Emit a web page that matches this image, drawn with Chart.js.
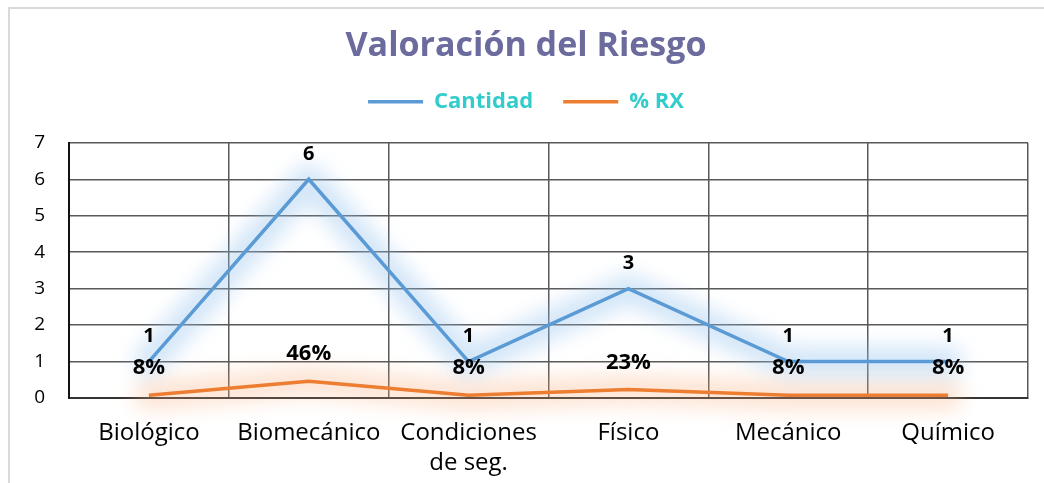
<!DOCTYPE html>
<html>
<head>
<meta charset="utf-8">
<script src="https://cdn.jsdelivr.net/npm/chart.js@4.4.0/dist/chart.umd.min.js"></script>
<style>
  body { margin: 0; background: #fff; }
  #marco { position: absolute; left: 8px; top: 7px; right: -5px; bottom: -5px;
           border-top: 2px solid #d9d9d9; border-left: 2px solid #d9d9d9; }
  #caja { position: absolute; left: 0; top: 0; width: 1044px; height: 483px; }
</style>
</head>
<body>
<div id="marco"></div>
<div id="caja"><canvas id="grafico"></canvas></div>
<script>
// Datos del gráfico
const categorias = ['Biológico', 'Biomecánico', ['Condiciones', 'de seg.'], 'Físico', 'Mecánico', 'Químico'];
const cantidad = [1, 6, 1, 3, 1, 1];
const porcentajeRx = [0.077, 0.46, 0.077, 0.23, 0.077, 0.077];
const etiquetasRx = ['8%', '46%', '8%', '23%', '8%', '8%'];

const fuente = "'Open Sans', 'DejaVu Sans', sans-serif";

// Plugin para el brillo difuso alrededor de las líneas
const brillo = {
    id: 'brillo',
    beforeInit(chart) {
        // espacio extra bajo la leyenda
        const fitOriginal = chart.legend.fit;
        chart.legend.fit = function () {
            fitOriginal.bind(chart.legend)();
            this.height += 20;
        };
    },
    beforeDatasetDraw(chart, args) {
        const ctx = chart.ctx;
        const puntos = args.meta.data;
        ctx.save();
        ctx.filter = 'blur(10px)';
        ctx.strokeStyle = args.index === 0 ? 'rgba(150,195,238,0.42)' : 'rgba(248,170,120,0.32)';
        ctx.lineWidth = 30;
        ctx.lineJoin = 'round';
        ctx.lineCap = 'round';
        ctx.beginPath();
        puntos.forEach((p, i) => i === 0 ? ctx.moveTo(p.x, p.y) : ctx.lineTo(p.x, p.y));
        ctx.stroke();
        ctx.restore();
    }
};

// Plugin para las etiquetas de datos
const etiquetas = {
    id: 'etiquetas',
    afterDatasetsDraw(chart) {
        const ctx = chart.ctx;
        ctx.save();
        ctx.fillStyle = '#000';
        ctx.textAlign = 'center';
        ctx.textBaseline = 'middle';
        const m0 = chart.getDatasetMeta(0);
        ctx.font = 'bold 20px ' + fuente;
        m0.data.forEach((p, i) => ctx.fillText(String(cantidad[i]), p.x, p.y - 25));
        const m1 = chart.getDatasetMeta(1);
        ctx.font = 'bold 22px ' + fuente;
        m1.data.forEach((p, i) => ctx.fillText(etiquetasRx[i], p.x, p.y - 27));
        ctx.restore();
    }
};

const ctx = document.getElementById('grafico').getContext('2d');
new Chart(ctx, {
    type: 'line',
    data: {
        labels: categorias,
        datasets: [{
            label: 'Cantidad',
            data: cantidad,
            borderColor: '#5B9BD5',
            backgroundColor: '#5B9BD5',
            borderWidth: 3.5,
            pointRadius: 0,
            tension: 0
        }, {
            label: '% RX',
            data: porcentajeRx,
            borderColor: '#ED7D31',
            backgroundColor: '#ED7D31',
            borderWidth: 3.5,
            pointRadius: 0,
            tension: 0
        }]
    },
    options: {
        responsive: true,
        maintainAspectRatio: false,
        animation: false,
        layout: { padding: { left: 24, right: 16, top: 26, bottom: 0 } },
        plugins: {
            title: {
                display: true,
                text: 'Valoración del Riesgo',
                color: '#6B6B9D',
                font: { family: fuente, size: 34, weight: 'bold' },
                padding: { top: 0, bottom: -6 }
            },
            legend: {
                labels: {
                    usePointStyle: true,
                    pointStyleWidth: 55,
                    pointStyle: 'line',
                    color: '#33CCCC',
                    font: { family: fuente, size: 22, weight: 'bold' },
                    padding: 30
                }
            },
            tooltip: { enabled: false }
        },
        scales: {
            x: {
                offset: true,
                grid: { offset: true, color: '#595959', lineWidth: 1.5, drawTicks: false },
                border: { color: '#333', width: 2 },
                ticks: { color: '#000', font: { family: fuente, size: 24, lineHeight: 1.25 }, padding: 20, maxRotation: 0, autoSkip: false },
                afterFit(escala) { escala.height = 85; }
            },
            y: {
                min: 0,
                max: 7,
                ticks: { stepSize: 1, color: '#000', font: { family: fuente, size: 19 }, padding: 24 },
                grid: { color: '#595959', lineWidth: 1.5, drawTicks: false },
                border: { color: '#111', width: 2 },
                afterFit(escala) { escala.width = 45; }
            }
        }
    },
    plugins: [brillo, etiquetas]
});
</script>
</body>
</html>
